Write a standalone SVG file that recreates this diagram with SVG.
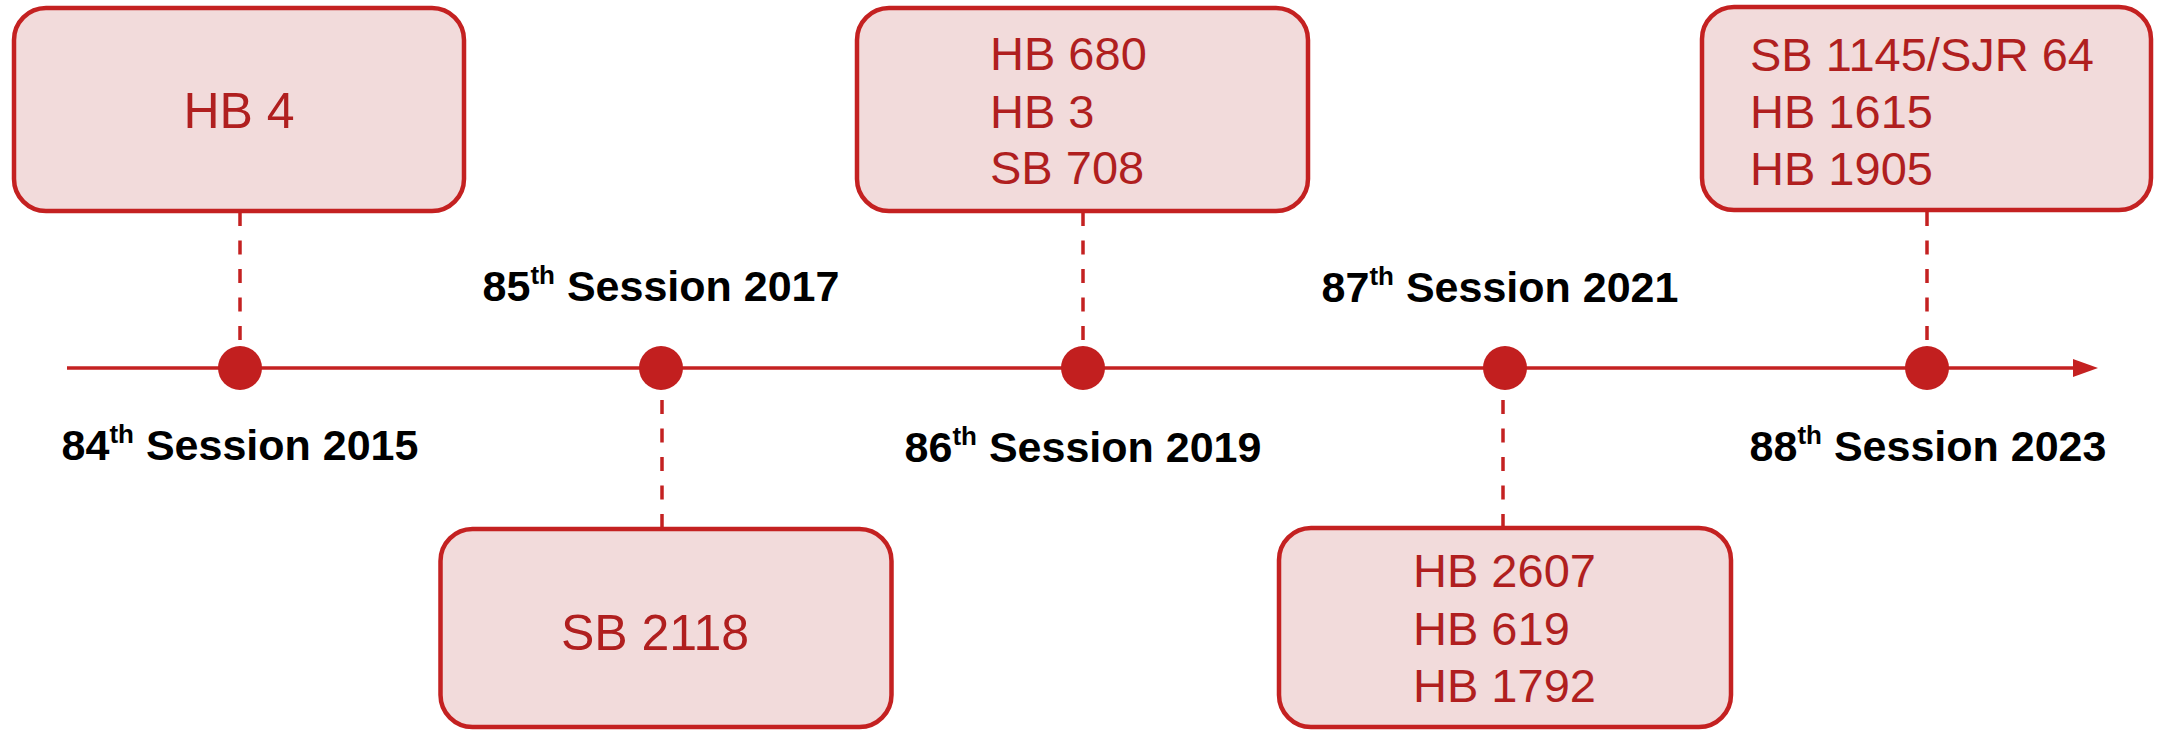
<svg xmlns="http://www.w3.org/2000/svg" width="2160" height="732" viewBox="0 0 2160 732">
<style>
.box{fill:#F2DBDB;stroke:#C42121;stroke-width:4.5}
.bt{font-family:"Liberation Sans",Arial,sans-serif;fill:#B01F1F;font-size:47px}
.bt1{font-family:"Liberation Sans",Arial,sans-serif;fill:#B01F1F;font-size:50px;text-anchor:middle}
.lbl{font-family:"Liberation Sans",Arial,sans-serif;font-weight:bold;font-size:43px;fill:#000;text-anchor:middle}
.sup{font-size:26px}
.dash{stroke:#C42121;stroke-width:3.5;stroke-dasharray:14 14.5;fill:none}
.dot{fill:#C21F1F}
</style>
<g id="connectors">
<line x1="67" y1="368" x2="2076" y2="368" stroke="#C42121" stroke-width="3.5"/>
<polygon points="2073,359 2098,368 2073,377" fill="#C42121"/>
<line class="dash" x1="240" y1="212" x2="240" y2="340"/>
<line class="dash" x1="662" y1="400" x2="662" y2="528"/>
<line class="dash" x1="1083" y1="212" x2="1083" y2="340"/>
<line class="dash" x1="1503" y1="400" x2="1503" y2="528"/>
<line class="dash" x1="1927" y1="212" x2="1927" y2="340"/>
</g>
<g id="dots">
<circle class="dot" cx="240" cy="368" r="22"/>
<circle class="dot" cx="661" cy="368" r="22"/>
<circle class="dot" cx="1083" cy="368" r="22"/>
<circle class="dot" cx="1505" cy="368" r="22"/>
<circle class="dot" cx="1927" cy="368" r="22"/>
</g>
<g id="node-hb4">
<rect class="box" x="14" y="8" width="450" height="203" rx="32"/>
<text class="bt1" x="239" y="128">HB 4</text>
</g>
<g id="node-sb2118">
<rect class="box" x="440.5" y="529" width="451" height="198" rx="32"/>
<text class="bt1" x="655" y="650">SB 2118</text>
</g>
<g id="node-86">
<rect class="box" x="857" y="8" width="451" height="203" rx="32"/>
<text class="bt" x="990" y="70">HB 680</text>
<text class="bt" x="990" y="128">HB 3</text>
<text class="bt" x="990" y="184">SB 708</text>
</g>
<g id="node-87">
<rect class="box" x="1279" y="528" width="452" height="199" rx="32"/>
<text class="bt" x="1413" y="587">HB 2607</text>
<text class="bt" x="1413" y="645">HB 619</text>
<text class="bt" x="1413" y="702">HB 1792</text>
</g>
<g id="node-88">
<rect class="box" x="1702" y="7" width="449" height="203" rx="32"/>
<text class="bt" x="1750" y="71">SB 1145/SJR 64</text>
<text class="bt" x="1750" y="128">HB 1615</text>
<text class="bt" x="1750" y="185">HB 1905</text>
</g>
<g id="labels">
<text class="lbl" x="240" y="460">84<tspan class="sup" dy="-17">th</tspan><tspan dy="17"> Session 2015</tspan></text>
<text class="lbl" x="661" y="301">85<tspan class="sup" dy="-17">th</tspan><tspan dy="17"> Session 2017</tspan></text>
<text class="lbl" x="1083" y="462">86<tspan class="sup" dy="-17">th</tspan><tspan dy="17"> Session 2019</tspan></text>
<text class="lbl" x="1500" y="302">87<tspan class="sup" dy="-17">th</tspan><tspan dy="17"> Session 2021</tspan></text>
<text class="lbl" x="1928" y="461">88<tspan class="sup" dy="-17">th</tspan><tspan dy="17"> Session 2023</tspan></text>
</g>
</svg>
